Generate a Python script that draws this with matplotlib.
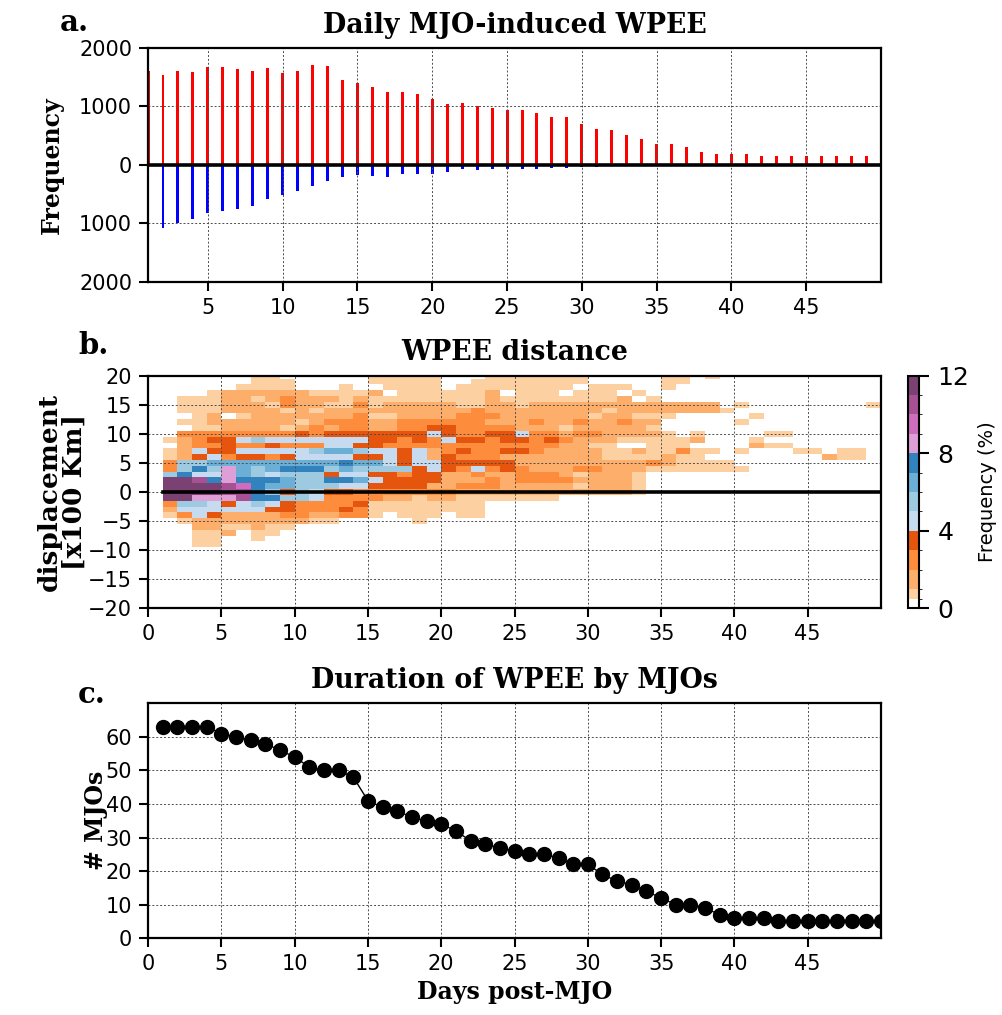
import numpy as np
import matplotlib
matplotlib.use('Agg')
import matplotlib.pyplot as plt
from matplotlib.colors import ListedColormap, BoundaryNorm

SERIF = 'DejaVu Serif'

# panel a: daily counts of WPEE, east (red) and west (blue) of the MJO
days = np.arange(1, 51)
east_counts = [1610, 1540, 1609, 1592, 1667, 1667, 1644, 1603, 1655, 1575,
               1609, 1701, 1684, 1454, 1408, 1333, 1247, 1247, 1207, 1121,
               1046, 1063, 1006, 971, 935, 937, 891, 822, 816, 695,
               609, 603, 506, 443, 356, 351, 316, 230, 190, 195,
               195, 155, 155, 161, 161, 161, 161, 161, 161, 2100]
west_counts = [0, 1075, 1000, 925, 816, 787, 759, 701, 575, 517,
               443, 351, 282, 207, 178, 195, 201, 161, 161, 161,
               126, 75, 86, 69, 63, 69, 75, 46, 46, 34,
               34, 0, 0, 0, 0, 0, 0, 0, 0, 0,
               0, 0, 0, 0, 0, 0, 0, 0, 0, 0]

# panel b: frequency (%) of displacement vs duration
# '.' empty, 'p' 0.5-1, '1'..'9','a','b' -> bin n..n+1
disp_levels = np.arange(20, -10, -1)
wpee_rows = [
    "......pp...." "..ppppp...pp" "ppppp.....pp" ".p...........",  # 20
    "......ppp..." "..ppppp..ppp" "ppppp.....pp" ".............",  # 19
    ".....pppp..." "p..pppp.pppp" "pppp.ppp..p." ".............",  # 18
    "...p111111pp" "pp1.pppppp1." "ppp.ppp.p..." ".............",  # 17
    ".ppp11p12111" "p1pppppppp1p" "ppppppp1.p.." ".............",  # 16
    ".ppp111p211p" "p2p11111pp11" "p11111111111" "11.p........p",  # 15
    ".ppp1111p1p1" "111111111211" "111111p11111" "11p..........",  # 14
    "..p1.p111111" "12pp11112221" "11111p11ppp." "....p........",  # 13
    ".pp111111p12" "221122222211" "1211211211.." "...p.........",  # 12
    "..pp1111p121" "221122332222" "111p11111p.." ".............",  # 11
    ".22222222323" "333333432233" "4221221111p." "p....pp......",  # 10
    "p12334544444" "443323243323" "3232111ppppp" "1...p........",  # 9
    ".12232232224" "433222222222" "22211pp..ppp" "....1pp......",  # 8
    "p14334444456" "654434123223" "321111pp1pp2" "pp.p...pp.pp.",  # 7
    "p13423323444" "433434132221" "111111pppp1p" "p........1pp.",  # 6
    "255666666666" "766434433333" "11111111121p" "ppp..........",  # 5
    "257586567775" "655553432423" "211122111ppp" "pppp.........",  # 4
    "574486545553" "443323311211" "2221p111p..." ".............",  # 3
    "bba787776557" "764333311121" "22221111p..." ".............",  # 2
    "bbbba9766555" "443333112221" "1111p111p..." ".............",  # 1
    "bbbbaa753543" "322222221111" "11111111p..." ".............",  # 0
    "bb888a775542" "22211p11pppp" "ppp........." ".............",  # -1
    "255434543222" "23pppppppp.." "............" ".............",  # -2
    "144444433222" "32pppppppp.." "............" ".............",  # -3
    "p24311112211" "22p.ppp.pp.." "............" ".............",  # -4
    ".p11111111pp" ".....p......" "............" ".............",  # -5
    "..11pp1pp..." "............" "............" ".............",  # -6
    "..pp1.pp...." "............" "............" ".............",  # -7
    "..pp..p....." "............" "............" ".............",  # -8
    "..pp........" "............" "............" ".............",  # -9
]
level_value = {'.': np.nan, 'p': 0.75, '1': 1.5, '2': 2.5, '3': 3.5,
               '4': 4.5, '5': 5.5, '6': 6.5, '7': 7.5, '8': 8.5,
               '9': 9.5, 'a': 10.5, 'b': 11.5}
freq_colors = ['white', '#fdd0a2', '#fdae6b', '#fd8d3c', '#e6550d',
               '#c6dbef', '#9ecae1', '#6baed6', '#3182bd',
               '#de9ed6', '#ce6dbd', '#a55194', '#7b4173']
freq_bounds = [0, 0.5, 1, 2, 3, 4, 5, 6, 7, 8, 9, 10, 11, 12]

# panel c: number of MJOs still active
mjo_counts = [63, 63, 63, 63, 61, 60, 59, 58, 56, 54,
              51, 50, 50, 48, 41, 39, 38, 36, 35, 34,
              32, 29, 28, 27, 26, 25, 25, 24, 22, 22,
              19, 17, 16, 14, 12, 10, 10, 9, 7, 6,
              6, 6, 5, 5, 5, 5, 5, 5, 5, 5]

ncol = 49
freq = np.array([[level_value[c] for c in row.ljust(ncol, '.')[:ncol]]
                 for row in wpee_rows])
freq = np.ma.masked_invalid(freq)


def style_axes(ax):
    for s in ax.spines.values():
        s.set_linewidth(1.6)
    ax.tick_params(length=6.5, width=1.5, labelsize=15, pad=5)
    ax.grid(True, color='0.3', linestyle=(0, (2, 2)), linewidth=0.7)


fig = plt.figure(figsize=(10.03, 10.15), dpi=100)
ax1 = fig.add_axes([0.1476, 0.7222, 0.7308, 0.2305])
ax2 = fig.add_axes([0.1476, 0.4007, 0.7308, 0.2292])
ax3 = fig.add_axes([0.1476, 0.0756, 0.7308, 0.2315])
cax = fig.add_axes([0.9056, 0.4007, 0.011, 0.2292])

title_kw = dict(family=SERIF, weight='bold', fontsize=19.3, pad=11)
label_kw = dict(family=SERIF, weight='bold', fontsize=17)

# a
ax1.bar(days, east_counts, width=0.2, color='red')
ax1.bar(days, -np.array(west_counts), width=0.2, color='blue')
ax1.axhline(0, color='k', lw=2.6)
ax1.set_xlim(1, 50)
ax1.set_ylim(-2000, 2000)
ax1.set_xticks(range(5, 50, 5))
ax1.set_yticks([-2000, -1000, 0, 1000, 2000])
ax1.set_yticklabels(['2000', '1000', '0', '1000', '2000'])
ax1.set_title('Daily MJO-induced WPEE', **title_kw)
ax1.set_ylabel('Frequency', labelpad=11, **label_kw)
style_axes(ax1)

# b
cmap = ListedColormap(freq_colors)
norm = BoundaryNorm(freq_bounds, cmap.N)
xedges = np.arange(1, ncol + 2)
yedges = np.append(disp_levels + 0.5, disp_levels[-1] - 0.5)
mesh = ax2.pcolormesh(xedges, yedges, freq, cmap=cmap, norm=norm)
ax2.plot([1, 50], [0, 0], color='k', lw=2.6)
ax2.set_xlim(0, 50)
ax2.set_ylim(-20, 20)
ax2.set_xticks(range(0, 50, 5))
ax2.set_yticks(range(-20, 21, 5))
ax2.set_title('WPEE distance', **title_kw)
ax2.set_ylabel('displacement\n[x100 Km]', linespacing=1.0, labelpad=1,
               family=SERIF, weight='bold', fontsize=19)
style_axes(ax2)

cb = fig.colorbar(mesh, cax=cax, spacing='proportional', ticks=[0, 4, 8, 12])
cb.outline.set_linewidth(1.5)
cb.ax.tick_params(length=7, width=1.5, labelsize=18, pad=6)
cb.set_label('Frequency (%)', fontsize=14, labelpad=6)

# c
ax3.plot(days, mjo_counts, color='k', lw=1, marker='o', markersize=10)
ax3.set_xlim(0, 50)
ax3.set_ylim(0, 70)
ax3.set_xticks(range(0, 50, 5))
ax3.set_yticks(range(0, 61, 10))
ax3.set_title('Duration of WPEE by MJOs', **title_kw)
ax3.set_ylabel('# MJOs', labelpad=-2, **label_kw)
ax3.set_xlabel('Days post-MJO', **label_kw)
style_axes(ax3)

panel_kw = dict(family=SERIF, weight='bold', fontsize=21, va='baseline')
fig.text(60 / 1003, 1 - 31 / 1015, 'a.', **panel_kw)
fig.text(78 / 1003, 1 - 354 / 1015, 'b.', **panel_kw)
fig.text(78 / 1003, 1 - 703 / 1015, 'c.', **panel_kw)

fig.savefig('out.png', dpi=100)
